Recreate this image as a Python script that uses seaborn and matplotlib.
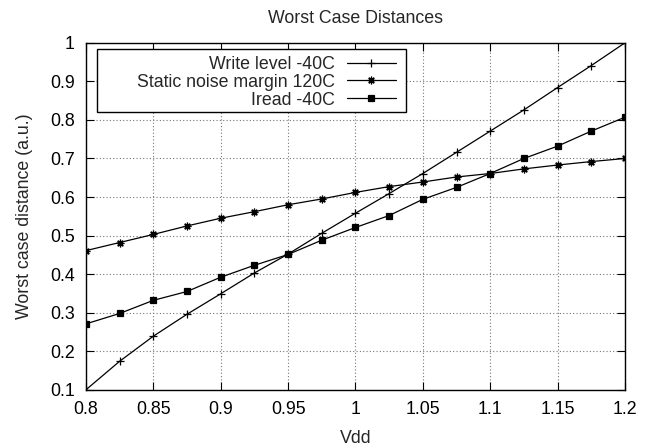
import matplotlib
matplotlib.use("Agg")
import matplotlib.pyplot as plt
from matplotlib.patches import Rectangle
import seaborn as sns
import pandas as pd

vdd = [0.8, 0.825, 0.85, 0.875, 0.9, 0.925, 0.95, 0.975, 1.0,
       1.025, 1.05, 1.075, 1.1, 1.125, 1.15, 1.175, 1.2]
write_level = [0.100, 0.174, 0.239, 0.296, 0.349, 0.403, 0.452, 0.506, 0.558,
               0.609, 0.661, 0.716, 0.771, 0.826, 0.884, 0.941, 1.000]
snm = [0.461, 0.482, 0.503, 0.525, 0.545, 0.562, 0.580, 0.595, 0.612,
       0.627, 0.639, 0.652, 0.661, 0.673, 0.683, 0.692, 0.700]
iread = [0.271, 0.298, 0.332, 0.355, 0.392, 0.423, 0.451, 0.488, 0.521,
         0.552, 0.594, 0.625, 0.661, 0.700, 0.732, 0.771, 0.807]
labels = ["Write level -40C", "Static noise margin 120C", "Iread -40C"]
xticks = [0.8, 0.85, 0.9, 0.95, 1.0, 1.05, 1.1, 1.15, 1.2]
yticks = [0.1, 0.2, 0.3, 0.4, 0.5, 0.6, 0.7, 0.8, 0.9, 1.0]

sns.set_theme(style="ticks")
plt.rcParams['font.family'] = ['Liberation Sans', 'DejaVu Sans']

FS = 12.8
fig = plt.figure(figsize=(6.51, 4.46), dpi=100)
ax = fig.add_axes([0.132, 0.126, 0.828, 0.778])

series = [write_level, snm, iread]
markers = ['+', (8, 2, 0), 's']
msizes = [5.5, 5.5, 4.5]
for vals, lab, mk, ms in zip(series, labels, markers, msizes):
    df = pd.DataFrame({"Vdd": vdd, "val": vals})
    sns.lineplot(data=df, x="Vdd", y="val", ax=ax, color="black", lw=0.9,
                 marker=mk, markersize=ms, markeredgewidth=0.9,
                 markeredgecolor="black", markerfacecolor="black", label=lab)

ax.set_xlim(0.8, 1.2)
ax.set_ylim(0.1, 1.0)
ax.set_xticks(xticks)
ax.set_xticklabels([f"{t:g}" for t in xticks])
ax.set_yticks(yticks)
ax.set_yticklabels([f"{t:g}" for t in yticks])
ax.grid(True, color="#777777", linestyle=(0, (1, 2)), linewidth=0.8)
ax.tick_params(direction="in", length=5.5, width=0.8, top=True, right=True,
               labelsize=FS, colors="black")
ax.tick_params(axis="x", pad=8)
ax.tick_params(axis="y", pad=8)
for s in ax.spines.values():
    s.set_color("black")
    s.set_linewidth(1.0)

ax.set_xlabel("Vdd", fontsize=FS, labelpad=9)
ax.set_ylabel("Worst case distance (a.u.)", fontsize=FS, labelpad=12)
ax.set_title("Worst Case Distances", fontsize=FS, pad=14)

# legend frame (gnuplot-style box, wider on the left)
ax.add_patch(Rectangle((0.0204, 0.801), 0.594 - 0.0204, 0.983 - 0.801,
                       transform=ax.transAxes, facecolor="white",
                       edgecolor="black", linewidth=1.0, zorder=4))
leg = ax.legend(loc="upper right", bbox_to_anchor=(0.5816, 0.971), borderaxespad=0,
                markerfirst=False, fontsize=FS, handlelength=2.75, frameon=False,
                borderpad=0.2, labelspacing=0.03, handletextpad=0.7)
leg.set_zorder(5)
leg._legend_box.align = "right"
for vp in leg._legend_handle_box.get_children():
    for c in vp.get_children():
        c.align = "right"

fig.savefig("out.png", dpi=100)
